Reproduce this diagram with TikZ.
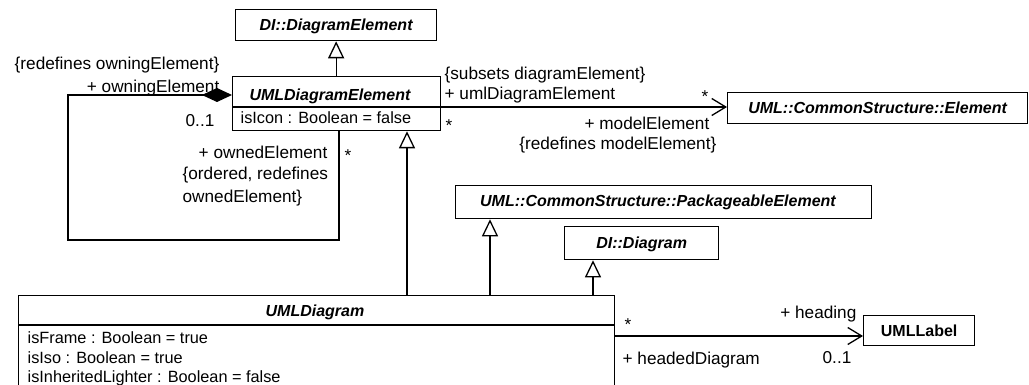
\documentclass[tikz,border=0pt]{standalone}
\usepackage{fontspec}
\setmainfont{Liberation Sans}
\usetikzlibrary{arrows.meta,calc}
\begin{document}
\begin{tikzpicture}[x=1pt,y=-1pt,line width=1.3pt,
  cls/.style={draw,inner sep=0pt,anchor=north west,font=\fontsize{16}{19}\selectfont\bfseries\itshape,text height=11.5pt,text depth=0pt},
  ttl/.style={inner sep=0pt,font=\fontsize{16}{19}\selectfont\bfseries\itshape,text height=11.5pt,text depth=0pt},
  attr/.style={inner sep=0pt,anchor=west,font=\fontsize{16.3}{20}\selectfont,text height=11.8pt,text depth=0pt},
  lbl/.style={inner sep=0pt,font=\fontsize{17.2}{20}\selectfont,text height=12.3pt,text depth=0pt},
  gen/.style={-{Triangle[open,fill=white,length=17pt,width=16pt]}},
  nav/.style={-{Straight Barb[length=14pt,width=17pt]}},
  comp/.style={{Diamond[length=30pt,width=14pt]}-}]
\useasboundingbox (0,0) rectangle (1029,385);
\clip (0,0) rectangle (1029,385);
% classes
\node[cls,minimum width=201pt,minimum height=31pt] (die) at (235,9) {DI::DiagramElement};
\node[draw,inner sep=0pt,anchor=north west,minimum width=208pt,minimum height=54pt] (ude) at (232,76) {};
\coordinate (d1) at (0,107);
\draw (ude.west |- d1) -- (ude.east |- d1);
\node[ttl] (udet) at (330,95) {UMLDiagramElement};
\node[attr] (udea) at (240,118) {isIcon : Boolean = false};
\node[cls,minimum width=300pt,minimum height=31pt] (elem) at (727,92) {UML::CommonStructure::Element};
\node[draw,inner sep=0pt,anchor=north west,minimum width=416pt,minimum height=33pt] (pe) at (455,185) {};
\node[ttl] (pet) at (658,201) {UML::CommonStructure::PackageableElement};
\node[cls,minimum width=154pt,minimum height=33pt] (did) at (564,226) {DI::Diagram};
\node[draw,inner sep=0pt,anchor=north west,minimum width=596pt,minimum height=120pt] (udg) at (18,295) {};
\coordinate (d2) at (0,325);
\draw (udg.west |- d2) -- (udg.east |- d2);
\node[ttl] (udgt) at (315,311) {UMLDiagram};
\node[attr] (a1) at (27,338) {isFrame : Boolean = true};
\node[attr] (a2) at (27,358) {isIso : Boolean = true};
\node[attr] (a3) at (27,377) {isInheritedLighter : Boolean = false};
\node[draw,inner sep=0pt,anchor=north west,minimum width=111pt,minimum height=30pt,font=\fontsize{16}{19}\selectfont\bfseries,text height=11.5pt,text depth=0pt] (ulab) at (863,315) {UMLLabel};
% generalizations
\draw[gen] (ude.north -| die.south) -- (die.south);
\coordinate (g2) at (407,0);
\draw[gen] (udg.north -| g2) -- (ude.south -| g2);
\coordinate (g3) at (490,0);
\draw[gen] (udg.north -| g3) -- (pe.south -| g3);
\coordinate (g4) at (593,0);
\draw[gen] (udg.north -| g4) -- (did.south -| g4);
% composition loop
\coordinate (dmd) at ($(ude.north west)+(0,19)$);
\coordinate (lp1) at (68,240);
\coordinate (lx) at (339,0);
\draw[comp] (dmd) -- (dmd -| lp1) -- (lp1) -- (lp1 -| lx) -- (ude.south -| lx);
% associations
\draw[nav] (ude.east |- d1) -- (elem.west |- d1);
\coordinate (d3) at (0,336);
\draw[nav] (udg.east |- d3) -- (ulab.west |- d3);
% labels
\node[lbl,anchor=east] (l1) at (220,63) {\{redefines owningElement\}};
\node[lbl,anchor=east] (l2) at (220,86) {+ owningElement};
\node[lbl,anchor=east] (l3) at (215,120) {0..1};
\node[lbl,anchor=east] (l4) at (328,152) {+ ownedElement};
\node[lbl,anchor=west] (l5) at (182,173) {\{ordered, redefines};
\node[lbl,anchor=west] (l6) at (182,196) {ownedElement\}};
\node[lbl] (l7) at (348,155) {*};
\node[lbl,anchor=west] (l8) at (444,73) {\{subsets diagramElement\}};
\node[lbl,anchor=west] (l9) at (444,93) {+ umlDiagramElement};
\node[lbl] (l10) at (449,125) {*};
\node[lbl] (l11) at (705,96) {*};
\node[lbl,anchor=east] (l12) at (710,123) {+ modelElement};
\node[lbl,anchor=east] (l13) at (717,143) {\{redefines modelElement\}};
\node[lbl] (l14) at (628,324) {*};
\node[lbl,anchor=east] (l15) at (857,312) {+ heading};
\node[lbl,anchor=west] (l16) at (622,358) {+ headedDiagram};
\node[lbl,anchor=east] (l17) at (852,357) {0..1};
\end{tikzpicture}
\end{document}
